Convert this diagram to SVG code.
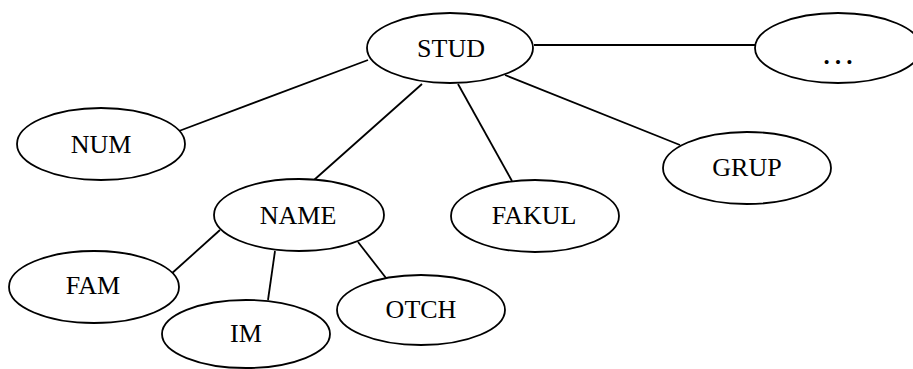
<svg xmlns="http://www.w3.org/2000/svg" width="913" height="369" viewBox="0 0 913 369">
  <style>
    .node ellipse { fill: #ffffff; stroke: #000000; stroke-width: 1.8; }
    .node text { font-family: "Liberation Serif", "Times New Roman", serif; font-size: 26px; fill: #000000; text-anchor: middle; }
    #connectors line { stroke: #000000; stroke-width: 1.8; }
  </style>
  <rect width="913" height="369" fill="#ffffff"/>

  <!-- connectors between records and their fields -->
  <g id="connectors">
    <line x1="534" y1="45" x2="755" y2="45"/>
    <line x1="368" y1="60" x2="179" y2="131"/>
    <line x1="422" y1="84" x2="314" y2="180"/>
    <line x1="458" y1="84" x2="512" y2="181"/>
    <line x1="505" y1="75" x2="680" y2="145"/>
    <line x1="220" y1="230" x2="170" y2="275"/>
    <line x1="275" y1="251" x2="268" y2="300"/>
    <line x1="358" y1="242" x2="386" y2="278"/>
  </g>

  <g id="stud" class="node">
    <ellipse cx="450" cy="48" rx="83" ry="35"/>
    <text x="451" y="57">STUD</text>
  </g>
  <g id="more" class="node">
    <ellipse cx="838" cy="48" rx="83" ry="35"/>
    <text x="838" y="64" style="font-size:34px">…</text>
  </g>
  <g id="num" class="node">
    <ellipse cx="101" cy="144" rx="84" ry="36"/>
    <text x="101" y="153">NUM</text>
  </g>
  <g id="grup" class="node">
    <ellipse cx="747" cy="168" rx="84" ry="36"/>
    <text x="747" y="176">GRUP</text>
  </g>
  <g id="name" class="node">
    <ellipse cx="299" cy="215" rx="85" ry="36"/>
    <text x="298" y="224">NAME</text>
  </g>
  <g id="fakul" class="node">
    <ellipse cx="535" cy="216" rx="84" ry="36"/>
    <text x="534" y="224">FAKUL</text>
  </g>
  <g id="fam" class="node">
    <ellipse cx="94" cy="287" rx="85" ry="36"/>
    <text x="93" y="294">FAM</text>
  </g>
  <g id="otch" class="node">
    <ellipse cx="421" cy="310" rx="84" ry="35"/>
    <text x="421" y="318">OTCH</text>
  </g>
  <g id="im" class="node">
    <ellipse cx="246" cy="334" rx="84" ry="34"/>
    <text x="246" y="342">IM</text>
  </g>
</svg>
